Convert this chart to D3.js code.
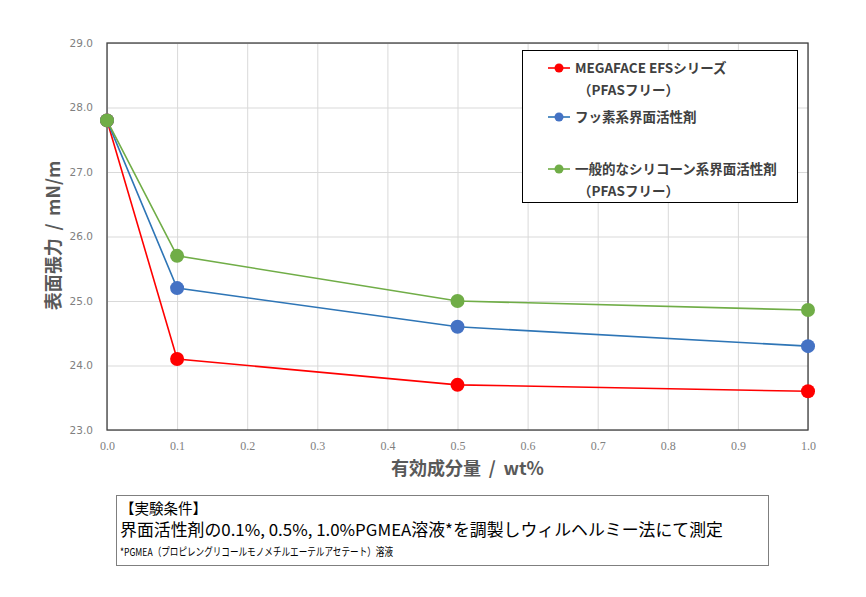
<!DOCTYPE html>
<html>
<head>
<meta charset="utf-8">
<script src="https://cdn.jsdelivr.net/npm/d3@7"></script>
<style>
  body { margin: 0; background: #fff; }
  svg { display: block; }
</style>
</head>
<body>
<div id="wrapper"></div>
<script>
// data
const xValues = [0.0, 0.1, 0.5, 1.0]
const megaface = [27.8, 24.1, 23.7, 23.6]
const fluoro = [27.8, 25.2, 24.6, 24.3]
const silicone = [27.8, 25.7, 25.0, 24.86]
const xTicks = [0, 0.1, 0.2, 0.3, 0.4, 0.5, 0.6, 0.7, 0.8, 0.9, 1.0]
const yTicks = [23, 24, 25, 26, 27, 28, 29]

const series = [
  { name: ["MEGAFACE EFSシリーズ", "（PFASフリー）"], values: megaface, line: "#ff0000", dot: "#ff0000", ly: 68 },
  { name: ["フッ素系界面活性剤"], values: fluoro, line: "#2e75b6", dot: "#4472c4", ly: 117 },
  { name: ["一般的なシリコーン系界面活性剤", "（PFASフリー）"], values: silicone, line: "#70ad47", dot: "#70ad47", ly: 169 }
]

const dimensions = {
  width: 866,
  height: 597,
  margin: { top: 43, right: 58, bottom: 167, left: 107 }
}
dimensions.boundedWidth = dimensions.width - dimensions.margin.left - dimensions.margin.right
dimensions.boundedHeight = dimensions.height - dimensions.margin.top - dimensions.margin.bottom

const svg = d3.select("#wrapper")
  .append("svg")
  .attr("width", dimensions.width)
  .attr("height", dimensions.height)

const bounds = svg.append("g")
  .attr("transform", `translate(${dimensions.margin.left},${dimensions.margin.top})`)

const xScale = d3.scaleLinear()
  .domain([0, 1])
  .range([0, dimensions.boundedWidth])

const yScale = d3.scaleLinear()
  .domain([23, 29])
  .range([dimensions.boundedHeight, 0])

// gridlines
bounds.append("g")
  .call(d3.axisLeft(yScale).tickValues(yTicks).tickSize(-dimensions.boundedWidth).tickFormat(""))
  .call(g => g.select(".domain").remove())
  .selectAll("line").attr("stroke", "#d9d9d9")

bounds.append("g")
  .call(d3.axisBottom(xScale).tickValues(xTicks).tickSize(dimensions.boundedHeight).tickFormat(""))
  .call(g => g.select(".domain").remove())
  .selectAll("line").attr("stroke", "#d9d9d9")

// frame
bounds.append("rect")
  .attr("width", dimensions.boundedWidth)
  .attr("height", dimensions.boundedHeight)
  .attr("fill", "none")
  .attr("stroke", "#404040")
  .attr("stroke-width", 1.3)

// tick labels
const yAxis = bounds.append("g")
  .call(d3.axisLeft(yScale).tickValues(yTicks).tickSize(0).tickPadding(14).tickFormat(d3.format(".1f")))
yAxis.select(".domain").remove()
yAxis.selectAll("text")
  .attr("font-family", "DejaVu Sans, sans-serif")
  .attr("font-size", "10.5px")
  .attr("fill", "#808080")

const xAxis = bounds.append("g")
  .attr("transform", `translate(0,${dimensions.boundedHeight})`)
  .call(d3.axisBottom(xScale).tickValues(xTicks).tickSize(0).tickPadding(11).tickFormat(d3.format(".1f")))
xAxis.select(".domain").remove()
xAxis.selectAll("text")
  .style("font-family", "'Liberation Serif', serif")
  .attr("font-size", "12px")
  .attr("fill", "#808080")

// lines and markers
const lineGen = d3.line()
  .x((d, i) => xScale(xValues[i]))
  .y(d => yScale(d))

series.forEach(s => {
  bounds.append("path")
    .datum(s.values)
    .attr("d", lineGen)
    .attr("fill", "none")
    .attr("stroke", s.line)
    .attr("stroke-width", 1.6)
})
series.forEach(s => {
  bounds.selectAll(null)
    .data(s.values)
    .enter()
    .append("circle")
      .attr("cx", (d, i) => xScale(xValues[i]))
      .attr("cy", d => yScale(d))
      .attr("r", 7)
      .attr("fill", s.dot)
})

// axis titles
svg.append("text")
  .attr("transform", `translate(60,${dimensions.margin.top + dimensions.boundedHeight / 2 - 1}) rotate(-90)`)
  .attr("text-anchor", "middle")
  .attr("font-family", "Noto Sans CJK JP, sans-serif")
  .attr("font-weight", "bold")
  .attr("font-size", "18px")
  .attr("fill", "#595959")
  .attr("xml:space", "preserve")
  .text("表面張力 \u2009/\u2009 mN/m")

svg.append("text")
  .attr("x", dimensions.margin.left + dimensions.boundedWidth / 2 + 10)
  .attr("y", 475)
  .attr("text-anchor", "middle")
  .attr("font-family", "Noto Sans CJK JP, sans-serif")
  .attr("font-weight", "bold")
  .attr("font-size", "18px")
  .attr("fill", "#595959")
  .text("有効成分量 \u2009/\u2009 wt%")

// legend
svg.append("rect")
  .attr("x", 522.5).attr("y", 50.5)
  .attr("width", 275).attr("height", 152)
  .attr("fill", "#fff")
  .attr("stroke", "#000")
  .attr("stroke-width", 1)
const legend = svg.append("g")

series.forEach(s => {
  legend.append("line")
    .attr("x1", 548).attr("x2", 570)
    .attr("y1", s.ly).attr("y2", s.ly)
    .attr("stroke", s.line).attr("stroke-width", 1.6)
  legend.append("circle")
    .attr("cx", 559).attr("cy", s.ly).attr("r", 4.5)
    .attr("fill", s.dot)
  s.name.forEach((t, j) => {
    legend.append("text")
      .attr("x", j == 0 ? 575 : 578)
      .attr("y", s.ly + j * 22 + 5)
      .attr("font-family", "Noto Sans CJK JP, sans-serif")
      .attr("font-weight", "bold")
      .attr("font-size", "13.5px")
      .attr("fill", "#404040")
      .text(t)
  })
})

// note box
const note = svg.append("g")
note.append("rect")
  .attr("x", 116.5).attr("y", 495.5)
  .attr("width", 652).attr("height", 70)
  .attr("fill", "#fff")
  .attr("stroke", "#7f7f7f")
  .attr("stroke-width", 1)

const noteLines = [
  { t: "【実験条件】", y: 514, size: 14.5, len: null },
  { t: "界面活性剤の0.1%, 0.5%, 1.0%PGMEA溶液*を調製しウィルヘルミー法にて測定", y: 536, size: 16.5, len: 603 },
  { t: "*PGMEA（プロピレングリコールモノメチルエーテルアセテート）溶液", y: 556, size: 11, len: 273 }
]
noteLines.forEach(n => {
  const t = note.append("text")
    .attr("x", 120)
    .attr("y", n.y)
    .attr("font-family", "Noto Sans CJK JP, sans-serif")
    .attr("font-size", n.size + "px")
    .attr("fill", "#000")
    .text(n.t)
  if (n.len) t.attr("textLength", n.len).attr("lengthAdjust", "spacingAndGlyphs")
})
</script>
</body>
</html>
